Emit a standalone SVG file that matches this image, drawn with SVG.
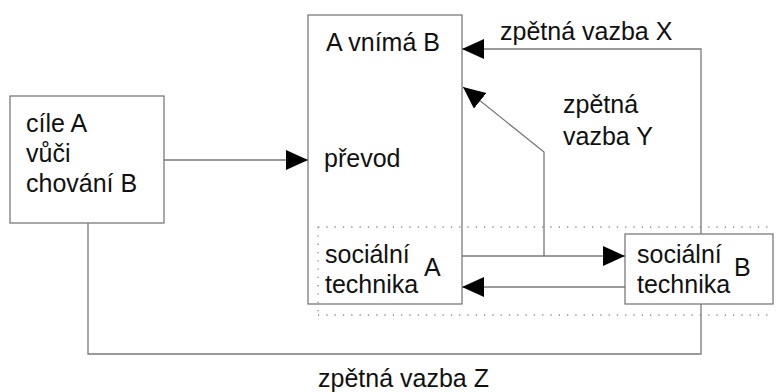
<svg xmlns="http://www.w3.org/2000/svg" width="779" height="392" viewBox="0 0 779 392">
  <style>
    .box { fill: #ffffff; stroke: #7a7a7a; stroke-width: 1.3; }
    .line { fill: none; stroke: #7a7a7a; stroke-width: 1.3; }
    .dots { fill: none; stroke: #8c8c8c; stroke-width: 1.3; stroke-dasharray: 1.3 7; }
    text { font-family: "Liberation Sans", Arial, sans-serif; font-size: 25px; fill: #111111; }
  </style>
  <defs>
    <marker id="arrow" markerUnits="userSpaceOnUse" markerWidth="24" markerHeight="22" refX="22" refY="10" orient="auto">
      <path d="M0,0 L22,10 L0,20 Z" fill="#000000"/>
    </marker>
  </defs>

  <rect width="779" height="392" fill="#ffffff"/>

  <g id="goals">
    <rect class="box" x="10" y="96" width="154" height="127"/>
    <text x="26" y="132">cíle A</text>
    <text x="26" y="162">vůči</text>
    <text x="26" y="192">chování B</text>
  </g>

  <g id="perception">
    <rect class="box" x="308" y="15" width="154" height="289"/>
    <text x="326" y="51">A vnímá B</text>
    <text x="324" y="167">převod</text>
    <text x="325" y="263">sociální</text>
    <text x="325" y="293">technika</text>
    <text x="424" y="276">A</text>
  </g>

  <g id="technique-b">
    <rect class="box" x="625" y="234" width="148" height="70"/>
    <text x="637" y="263">sociální</text>
    <text x="637" y="293">technika</text>
    <text x="734" y="276">B</text>
  </g>

  <!-- dotted band around the social-technique row, drawn over the boxes -->
  <g id="band">
    <line class="dots" x1="318" y1="227" x2="773" y2="227"/>
    <line class="dots" x1="318" y1="315" x2="773" y2="315"/>
    <line class="dots" x1="318" y1="227" x2="318" y2="315"/>
  </g>

  <g id="connectors">
    <!-- goals -> převod -->
    <line class="line" x1="164" y1="160" x2="308" y2="160" marker-end="url(#arrow)"/>
    <!-- technique A -> technique B -->
    <line class="line" x1="462" y1="256" x2="625" y2="256" marker-end="url(#arrow)"/>
    <!-- technique B -> technique A -->
    <line class="line" x1="625" y1="287" x2="462" y2="287" marker-end="url(#arrow)"/>
    <!-- feedback X -->
    <polyline class="line" points="701,234 701,49 462,49" marker-end="url(#arrow)"/>
    <!-- feedback Y -->
    <polyline class="line" points="544,256 544,152 463,87" marker-end="url(#arrow)"/>
    <!-- feedback Z -->
    <polyline class="line" points="88,223 88,354 701,354 701,304"/>
  </g>

  <g id="labels">
    <text x="500" y="40">zpětná vazba X</text>
    <text x="563" y="113">zpětná</text>
    <text x="563" y="145">vazba Y</text>
    <text x="318" y="387">zpětná vazba Z</text>
  </g>
</svg>
